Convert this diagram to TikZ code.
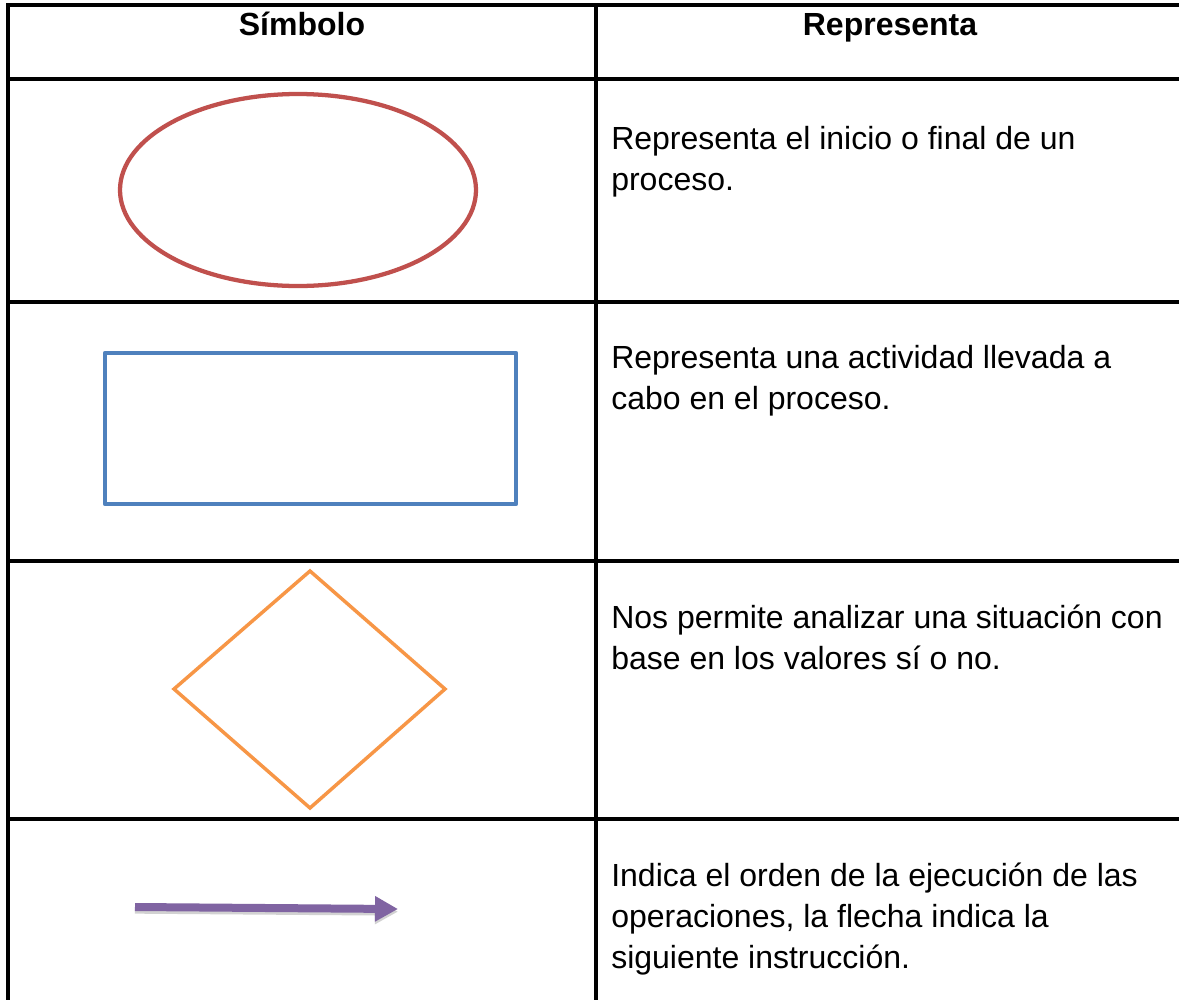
\documentclass[tikz,border=0pt]{standalone}
\usepackage{fontspec}
\setmainfont{Liberation Sans}
\usetikzlibrary{arrows.meta}
\definecolor{elred}{HTML}{C0504D}
\definecolor{recblue}{HTML}{4F81BD}
\definecolor{rombo}{HTML}{F79646}
\definecolor{flecha}{HTML}{8064A2}
\begin{document}
\begin{tikzpicture}[x=0.75pt,y=-0.75pt,
    linea/.style={line width=2.4pt,black},
    celda/.style={anchor=base west,inner sep=0pt,align=left,font=\fontsize{24}{30.4}\selectfont},
    titulo/.style={anchor=base,inner sep=0pt,font=\fontsize{24}{29}\selectfont\bfseries}]
    \useasboundingbox (0,0) rectangle (1179,1000);
    \fill[white] (0,0) rectangle (1179,1000);
    % tabla
    \draw[linea] (8,1006)--(8,5)--(1186,5);
    \draw[linea] (596,5)--(596,1006);
    \foreach \y in {79,302,561,819}
        \draw[linea] (8,\y)--(1186,\y);
    \node[titulo] (simbolo) at (302,35) {Símbolo};
    \node[titulo] (repr) at (890,35) {Representa};
    % simbolos
    \draw[elred,line width=3.2pt] (298,190) ellipse [x radius=178,y radius=96];
    \draw[recblue,line width=3.2pt,line join=round] (105,353) rectangle (516,504);
    \draw[rombo,line width=2.6pt] (310,571)--(445,689)--(310,808)--(174,689)--cycle;
    \coordinate (ini) at (135,907);
    \coordinate (fin) at (398,909);
    \draw[black!35,opacity=0.5,line width=6pt,-{Triangle[length=17.25pt,width=18pt]}] ([yshift=-2pt]ini)--([yshift=-2pt]fin);
    \draw[flecha,line width=6pt,-{Triangle[length=17.25pt,width=18pt]}] (ini)--(fin);
    % textos (base = ultima linea)
    \node[celda] (t1) at (611,190.5) {Representa el inicio o final de un\\proceso.};
    \node[celda] (t2) at (611,409.5) {Representa una actividad llevada a\\cabo en el proceso.};
    \node[celda] (t3) at (611,669.5) {Nos permite analizar una situación con\\base en los valores sí o no.};
    \node[celda] (t4) at (611,968) {Indica el orden de la ejecución de las\\operaciones, la flecha indica la\\siguiente instrucción.};
\end{tikzpicture}
\end{document}
